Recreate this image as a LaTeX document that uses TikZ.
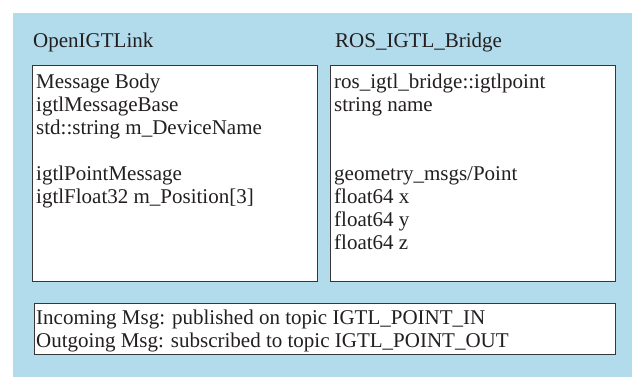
\documentclass[tikz,border=0pt]{standalone}
\usepackage{fontspec}
\setmainfont{Liberation Serif}
\definecolor{panelblue}{RGB}{178,219,235}
\definecolor{edgegray}{RGB}{55,55,55}
\definecolor{inkgray}{RGB}{35,31,32}
\tikzset{
  msgbox/.style={draw=edgegray, line width=1.3pt, fill=white, rectangle,
    anchor=north west, inner sep=0pt},
  line/.style={anchor=base west, inner sep=0pt, text=inkgray,
    font=\fontsize{21}{23}\selectfont},
}
\begin{document}
\begin{tikzpicture}[x=1pt,y=-1pt]
\useasboundingbox (0,0) rectangle (632,377);
% background panel
\fill[panelblue] (13,13) rectangle (632,377);

% column titles
\node[line] (titleA) at (33,48) {OpenIGTLink};
\node[line] (titleB) at (335,48) {ROS\_IGTL\_Bridge};

% message boxes
\node[msgbox, minimum width=285pt, minimum height=216pt] (igtlbox) at (32,65) {};
\node[msgbox, minimum width=285pt, minimum height=216pt] (rosbox) at (330,65) {};
\node[msgbox, minimum width=581pt, minimum height=51pt] (topicbox) at (34,303) {};

% OpenIGTLink side
\node[line] (a1) at (36,88.5) {Message Body};
\node[line] (a2) at (36,111.5) {igtlMessageBase};
\node[line] (a3) at (36,134.5) {std::string m\_DeviceName};
\node[line] (a5) at (36,180.5) {igtlPointMessage};
\node[line] (a6) at (36,203.5) {igtlFloat32 m\_Position[3]};

% ROS side
\node[line] (b1) at (334,88.5) {ros\_igtl\_bridge::igtlpoint};
\node[line] (b2) at (334,111.5) {string name};
\node[line] (b5) at (334,180.5) {geometry\_msgs/Point};
\node[line] (b6) at (334,203.5) {float64 x};
\node[line] (b7) at (334,226.5) {float64 y};
\node[line] (b8) at (334,249.5) {float64 z};

% topics
\node[line] (c1) at (36,324.5) {Incoming Msg: published on topic IGTL\_POINT\_IN};
\node[line] (c2) at (36,347) {Outgoing Msg: subscribed to topic IGTL\_POINT\_OUT};
\end{tikzpicture}
\end{document}
